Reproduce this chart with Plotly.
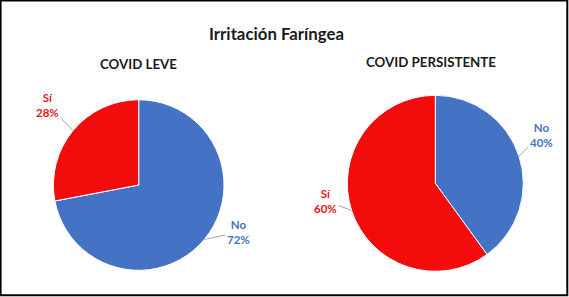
import math
import plotly.graph_objects as go

W, H = 569, 297

title = "Irritación Faríngea"
groups = ["COVID LEVE", "COVID PERSISTENTE"]
labels = ["No", "Sí"]
values_leve = [72, 28]
values_persistente = [40, 60]

colors = {"No": "#4472C4", "Sí": "#F20C0C"}
text_colors = {"No": "#4472C4", "Sí": "#E8141A"}

# pie domains (paper) and label offsets (px, style only)
domains = [
    dict(x=[0.0938, 0.3937], y=[0.0899, 0.6643]),
    dict(x=[0.6104, 0.9197], y=[0.0865, 0.6791]),
]
label_offsets = [
    {"No": (34, -7), "Sí": (-25, -26)},
    {"No": (22, -21), "Sí": (-26, -10)},
]
subtitle_pos = [(138, 64), (431, 62)]

FONT = "Lato"

fig = go.Figure()
annotations = []
all_values = [values_leve, values_persistente]
for i, (grp, vals) in enumerate(zip(groups, all_values)):
    d = domains[i]
    fig.add_trace(go.Pie(
        labels=labels, values=vals, sort=False, direction="clockwise", rotation=0,
        domain=d, textinfo="none", hoverinfo="label+percent",
        marker=dict(colors=[colors[l] for l in labels], line=dict(color="white", width=1)),
        showlegend=False,
    ))
    # geometry like plotly: radius = min(w,h)/2
    wpx = (d["x"][1] - d["x"][0]) * W
    hpx = (d["y"][1] - d["y"][0]) * H
    r = min(wpx, hpx) / 2
    cx = (d["x"][0] + d["x"][1]) / 2 * W
    cy = (1 - (d["y"][0] + d["y"][1]) / 2) * H
    total = sum(vals)
    cum = 0
    for lab, v in zip(labels, vals):
        mid = (cum + v / 2) / total * 2 * math.pi
        cum += v
        tx = cx + r * math.sin(mid)
        ty = cy - r * math.cos(mid)
        ax, ay = label_offsets[i][lab]
        pct = round(v / total * 100)
        annotations.append(dict(
            x=tx / W, y=1 - ty / H, xref="paper", yref="paper",
            text=f"<b>{lab}<br>{pct}%</b>", showarrow=True, arrowhead=0,
            arrowwidth=1, arrowcolor="#A6A6A6", ax=ax, ay=ay,
            font=dict(family=FONT, size=11.5, color=text_colors[lab]),
            align="center",
        ))
    sx, sy = subtitle_pos[i]
    annotations.append(dict(
        x=sx / W, y=1 - sy / H, xref="paper", yref="paper", showarrow=False,
        text=f"<b>{grp}</b>", font=dict(family=FONT, size=13.3, color="#1a1a1a"),
        xanchor="center", yanchor="middle",
    ))

annotations.append(dict(
    x=276 / W, y=1 - 33 / H, xref="paper", yref="paper", showarrow=False,
    text=f"<b>{title}</b>", font=dict(family=FONT, size=16.8, color="#1a1a1a"),
    xanchor="center", yanchor="middle",
))

fig.update_layout(
    width=W, height=H, margin=dict(l=0, r=0, t=0, b=0),
    paper_bgcolor="white", plot_bgcolor="white",
    annotations=annotations,
    shapes=[dict(type="rect", xref="paper", yref="paper", x0=0.001, x1=0.997,
                 y0=0.006, y1=0.998, line=dict(color="black", width=2))],
)

fig.write_html("out.html")
